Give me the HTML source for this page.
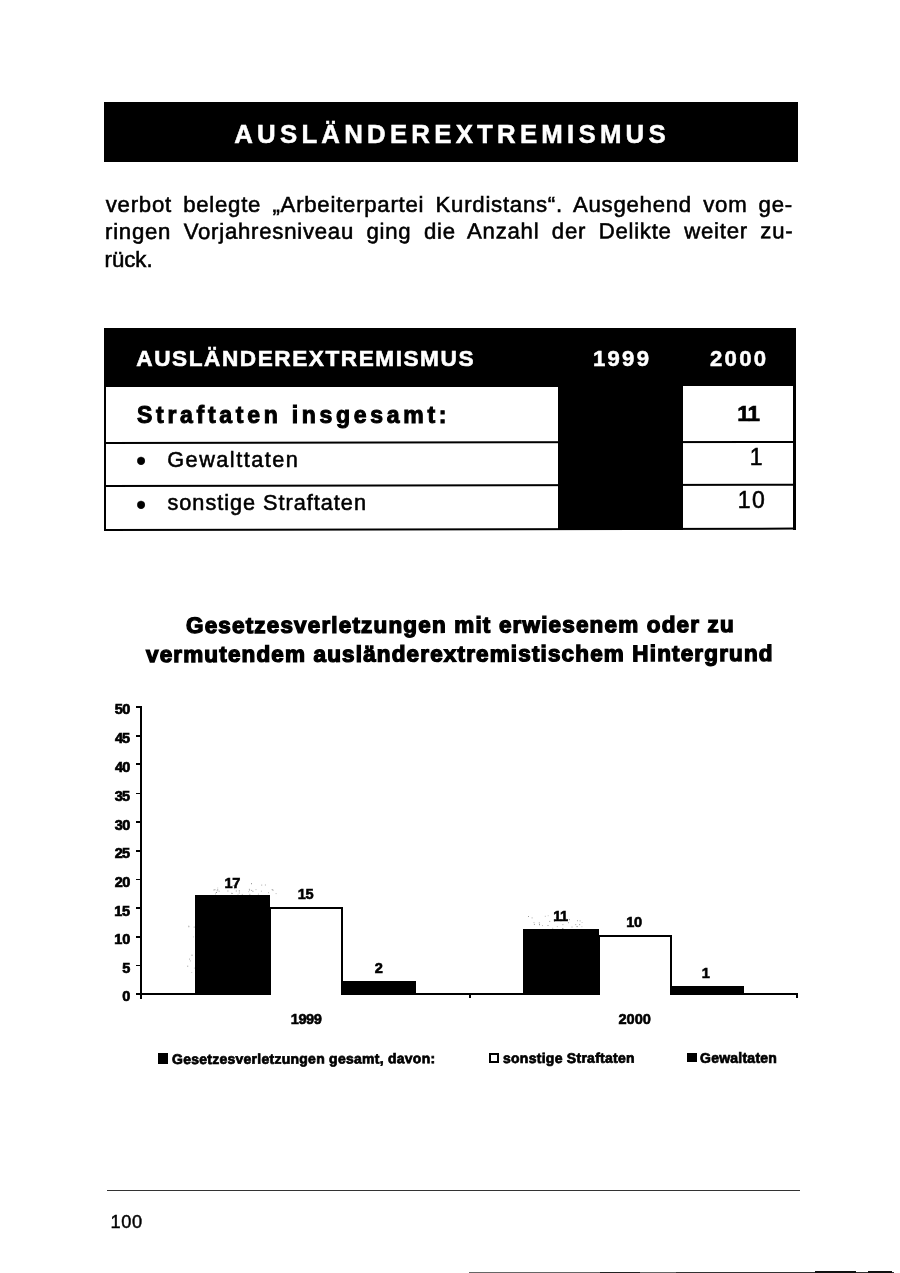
<!DOCTYPE html>
<html lang="de">
<head>
<meta charset="utf-8">
<title>Ausländerextremismus</title>
<style>
html,body{margin:0;padding:0;background:#fff;}
header,p,section,figure,figcaption,footer,h1{margin:0;padding:0;font-weight:normal;}
body{width:900px;height:1273px;position:relative;overflow:hidden;font-family:"Liberation Sans",sans-serif;color:#000;}
.b{position:absolute;background:#000;}
.w{position:absolute;background:#fff;border:2px solid #000;border-bottom:0;box-sizing:border-box;}
.t{position:absolute;white-space:nowrap;line-height:1;margin:0;}
</style>
</head>
<body>
<header>
<div class="b" style="left:104px;top:102.2px;width:694.2px;height:59.6px;"></div>
<h1 class="t" style="left:234.25px;top:122.00px;font-size:25.8px;font-weight:bold;color:#fff;letter-spacing:4.224px;-webkit-text-stroke:0.5px #fff;">AUSLÄNDEREXTREMISMUS</h1>
</header>
<p>
<span class="t" style="left:105.75px;top:194.01px;font-size:22.2px;letter-spacing:0.750px;word-spacing:4.333px;-webkit-text-stroke:0.55px #000;">verbot belegte „Arbeiterpartei Kurdistans“. Ausgehend vom ge-</span>
<span class="t" style="left:104.50px;top:221.00px;font-size:22.2px;letter-spacing:0.750px;word-spacing:5.562px;-webkit-text-stroke:0.55px #000;transform-origin:0 85%;transform:rotate(-0.06deg);">ringen Vorjahresniveau ging die Anzahl der Delikte weiter zu-</span>
<span class="t" style="left:104.50px;top:249.00px;font-size:22.2px;-webkit-text-stroke:0.55px #000;">rück.</span>
</p>
<section id="tabelle">
<div class="b" style="left:103.6px;top:327.8px;width:692px;height:58px;"></div>
<div class="b" style="left:103.6px;top:385px;width:454.4px;height:1.8px;"></div>
<div class="b" style="left:103.8px;top:386px;width:2.7px;height:145px;"></div>
<div class="b" style="left:793.4px;top:385px;width:2.5px;height:144.8px;"></div>
<div class="b" style="left:103.8px;top:529.05px;width:692.1px;height:2.3px;transform-origin:0 50%;transform:rotate(-0.116deg)"></div>
<div class="b" style="left:106px;top:441.75px;width:688.0px;height:1.7px;transform-origin:0 50%;transform:rotate(-0.092deg)"></div>
<div class="b" style="left:106px;top:485.35px;width:688.0px;height:1.7px;transform-origin:0 50%;transform:rotate(-0.108deg)"></div>
<div class="b" style="left:558.4px;top:385px;width:124.8px;height:144.6px;"></div>
<div class="t" style="left:136.25px;top:348.01px;font-size:22.6px;font-weight:bold;color:#fff;letter-spacing:1.561px;-webkit-text-stroke:0.6px #fff;">AUSLÄNDEREXTREMISMUS</div>
<div class="t" style="left:593.00px;top:348.01px;font-size:22.2px;font-weight:bold;color:#fff;letter-spacing:2.217px;-webkit-text-stroke:0.5px #fff;">1999</div>
<div class="t" style="left:710.00px;top:348.01px;font-size:22.2px;font-weight:bold;color:#fff;letter-spacing:2.267px;-webkit-text-stroke:0.5px #fff;">2000</div>
<div class="t" style="left:137.00px;top:404.01px;font-size:23px;font-weight:bold;letter-spacing:3.717px;-webkit-text-stroke:1px #000;">Straftaten insgesamt:</div>
<div class="t" style="left:737.25px;top:403.01px;font-size:22.5px;font-weight:bold;letter-spacing:-1.000px;-webkit-text-stroke:0.6px #000;">11</div>
<div class="t" style="left:167.25px;top:449.01px;font-size:21.7px;letter-spacing:1.485px;-webkit-text-stroke:0.55px #000;">Gewalttaten</div>
<div class="t" style="left:749.65px;top:446.00px;font-size:23px;-webkit-text-stroke:0.55px #000;">1</div>
<div class="t" style="left:167.50px;top:492.00px;font-size:21.7px;letter-spacing:0.978px;-webkit-text-stroke:0.55px #000;">sonstige Straftaten</div>
<div class="t" style="left:737.75px;top:489.01px;font-size:23px;letter-spacing:1.550px;-webkit-text-stroke:0.55px #000;">10</div>
<div class="t" style="left:136.05px;top:447.35px;font-size:29px;-webkit-text-stroke:0.2px #000;">•</div>
<div class="t" style="left:136.05px;top:491.35px;font-size:29px;-webkit-text-stroke:0.2px #000;">•</div>
</section>
<figure>
<figcaption>
<div class="t" style="left:185.50px;top:615.00px;font-size:22.5px;font-weight:bold;letter-spacing:1.162px;-webkit-text-stroke:1.3px #000;transform-origin:0 85%;transform:rotate(-0.1deg);">Gesetzesverletzungen mit erwiesenem oder zu</div>
<div class="t" style="left:146.25px;top:644.00px;font-size:22.5px;font-weight:bold;letter-spacing:1.147px;-webkit-text-stroke:1.3px #000;transform-origin:0 85%;transform:rotate(-0.1deg);">vermutendem ausländerextremistischem Hintergrund</div>
</figcaption>
<div class="b" style="left:139.85px;top:706.3px;width:2.35px;height:292.7px;"></div>
<div class="b" style="left:135.5px;top:992.95px;width:662.1px;height:2.1px;"></div>
<div class="b" style="left:135.5px;top:964.75px;width:5.6px;height:1.7px;"></div>
<div class="b" style="left:135.5px;top:936.15px;width:5.6px;height:1.7px;"></div>
<div class="b" style="left:135.5px;top:907.45px;width:5.6px;height:1.7px;"></div>
<div class="b" style="left:135.5px;top:878.75px;width:5.6px;height:1.7px;"></div>
<div class="b" style="left:135.5px;top:850.05px;width:5.6px;height:1.7px;"></div>
<div class="b" style="left:135.5px;top:821.45px;width:5.6px;height:1.7px;"></div>
<div class="b" style="left:135.5px;top:792.75px;width:5.6px;height:1.7px;"></div>
<div class="b" style="left:135.5px;top:763.45px;width:5.6px;height:1.7px;"></div>
<div class="b" style="left:135.5px;top:734.85px;width:5.6px;height:1.7px;"></div>
<div class="b" style="left:135.5px;top:706.15px;width:5.6px;height:1.7px;"></div>
<div class="b" style="left:469.1px;top:994px;width:1.8px;height:4.3px;"></div>
<div class="b" style="left:796.2px;top:994px;width:1.8px;height:4.3px;"></div>
<div class="b" style="left:195px;top:895.3px;width:75.3px;height:99.7px;"></div>
<div class="w" style="left:269px;top:906.8px;width:74.1px;height:88.2px"></div>
<div class="b" style="left:343px;top:981.4px;width:73.2px;height:13.6px;"></div>
<div class="b" style="left:523.3px;top:929.1px;width:75.4px;height:65.9px;"></div>
<div class="w" style="left:597.5px;top:935px;width:74.1px;height:60px"></div>
<div class="b" style="left:671.3px;top:986.4px;width:72.5px;height:8.6px;"></div>
<div class="b" style="left:157.7px;top:1053.4px;width:10.3px;height:10.6px;"></div>
<div class="w" style="left:489.2px;top:1052.8px;width:10.1px;height:10.2px;border:2px solid #000"></div>
<div class="b" style="left:686.7px;top:1052.6px;width:10.2px;height:9.6px;"></div>
<div style="position:absolute;left:212px;top:879px;width:1px;height:1px;box-shadow:20.7px 6.0px 0 0 #999,4.6px 11.3px 0 0 #bbb,37.3px 14.8px 0 0 #aaa,2.4px 10.2px 0 0 #999,15.4px 11.5px 0 0 #999,52.9px 5.5px 0 0 #aaa,40.4px 11.8px 0 0 #999,36.9px 9.8px 0 0 #aaa,3.0px 14.4px 0 0 #bbb,26.8px 11.4px 0 0 #888,19.7px 14.0px 0 0 #aaa,6.6px 11.7px 0 0 #aaa,23.8px 11.5px 0 0 #999,36.1px 12.2px 0 0 #ccc,43.5px 10.1px 0 0 #bbb,29.8px 14.9px 0 0 #bbb,19.2px 13.8px 0 0 #aaa,5.2px 8.5px 0 0 #ccc,56.0px 13.2px 0 0 #bbb,39.0px 4.2px 0 0 #888,26.8px 13.5px 0 0 #aaa,59.7px 10.1px 0 0 #999,48.9px 11.7px 0 0 #bbb,21.8px 9.2px 0 0 #ccc,37.1px 10.5px 0 0 #999,60.5px 10.7px 0 0 #999,3.9px 13.0px 0 0 #888,63.6px 14.1px 0 0 #bbb,45.9px 14.6px 0 0 #bbb,1.4px 10.5px 0 0 #aaa,39.1px 10.9px 0 0 #aaa,49.2px 5.6px 0 0 #aaa,25.5px 14.8px 0 0 #ccc,5.2px 10.4px 0 0 #888"></div>
<div style="position:absolute;left:186px;top:915px;width:1px;height:1px;box-shadow:2.2px 10.5px 0 0 #ccc,6.9px 21.4px 0 0 #ccc,7.9px 52.6px 0 0 #ccc,7.7px 11.6px 0 0 #aaa,1.2px 50.7px 0 0 #999,3.9px 45.4px 0 0 #bbb,2.3px 11.2px 0 0 #888,3.0px 43.6px 0 0 #aaa,5.5px 39.7px 0 0 #888,5.2px 57.0px 0 0 #ccc"></div>
<div style="position:absolute;left:528px;top:908px;width:1px;height:1px;box-shadow:48.6px 18.1px 0 0 #888,21.2px 12.9px 0 0 #999,26.0px 13.0px 0 0 #aaa,3.6px 9.4px 0 0 #aaa,5.9px 15.9px 0 0 #999,0.0px 8.0px 0 0 #999,51.2px 16.1px 0 0 #999,47.2px 16.1px 0 0 #aaa,34.3px 20.0px 0 0 #888,19.7px 7.2px 0 0 #ccc,53.6px 14.0px 0 0 #ccc,16.8px 7.8px 0 0 #bbb,40.0px 14.2px 0 0 #aaa,27.9px 9.3px 0 0 #888,19.5px 17.0px 0 0 #999,40.9px 11.2px 0 0 #999,37.6px 10.5px 0 0 #bbb,49.0px 12.2px 0 0 #aaa,28.8px 18.1px 0 0 #bbb,34.4px 16.1px 0 0 #aaa,43.5px 18.5px 0 0 #aaa,10.8px 14.4px 0 0 #999,53.4px 18.2px 0 0 #ccc,14.0px 17.1px 0 0 #bbb,24.2px 19.8px 0 0 #bbb,51.6px 12.4px 0 0 #aaa,5.5px 14.1px 0 0 #bbb,11.0px 16.2px 0 0 #888"></div>
<div class="t" style="left:122.20px;top:989.00px;font-size:14.5px;font-weight:bold;-webkit-text-stroke:0.7px #000;">0</div>
<div class="t" style="left:122.20px;top:961.00px;font-size:14.5px;font-weight:bold;-webkit-text-stroke:0.7px #000;">5</div>
<div class="t" style="left:114.25px;top:932.01px;font-size:14.5px;font-weight:bold;-webkit-text-stroke:0.7px #000;">10</div>
<div class="t" style="left:114.25px;top:904.01px;font-size:14.5px;font-weight:bold;letter-spacing:-0.250px;-webkit-text-stroke:0.7px #000;">15</div>
<div class="t" style="left:114.75px;top:875.00px;font-size:14.5px;font-weight:bold;letter-spacing:-0.500px;-webkit-text-stroke:0.7px #000;">20</div>
<div class="t" style="left:114.75px;top:846.00px;font-size:14.5px;font-weight:bold;letter-spacing:-0.750px;-webkit-text-stroke:0.7px #000;">25</div>
<div class="t" style="left:114.75px;top:818.01px;font-size:14.5px;font-weight:bold;letter-spacing:-0.500px;-webkit-text-stroke:0.7px #000;">30</div>
<div class="t" style="left:114.75px;top:789.00px;font-size:14.5px;font-weight:bold;letter-spacing:-0.750px;-webkit-text-stroke:0.7px #000;">35</div>
<div class="t" style="left:115.00px;top:760.01px;font-size:14.5px;font-weight:bold;letter-spacing:-0.750px;-webkit-text-stroke:0.7px #000;">40</div>
<div class="t" style="left:115.00px;top:731.00px;font-size:14.5px;font-weight:bold;letter-spacing:-1.000px;-webkit-text-stroke:0.7px #000;">45</div>
<div class="t" style="left:114.75px;top:702.01px;font-size:14.5px;font-weight:bold;letter-spacing:-0.500px;-webkit-text-stroke:0.7px #000;">50</div>
<div class="t" style="left:224.50px;top:876.00px;font-size:14.6px;font-weight:bold;letter-spacing:-0.300px;-webkit-text-stroke:0.6px #000;">17</div>
<div class="t" style="left:297.75px;top:887.01px;font-size:14.6px;font-weight:bold;letter-spacing:-0.300px;-webkit-text-stroke:0.6px #000;">15</div>
<div class="t" style="left:374.73px;top:961.01px;font-size:14.6px;font-weight:bold;-webkit-text-stroke:0.6px #000;">2</div>
<div class="t" style="left:553.25px;top:909.01px;font-size:14.6px;font-weight:bold;letter-spacing:-0.600px;-webkit-text-stroke:0.6px #000;">11</div>
<div class="t" style="left:626.25px;top:915.01px;font-size:14.6px;font-weight:bold;letter-spacing:-0.300px;-webkit-text-stroke:0.6px #000;">10</div>
<div class="t" style="left:701.82px;top:966.00px;font-size:14.6px;font-weight:bold;-webkit-text-stroke:0.6px #000;">1</div>
<div class="t" style="left:290.75px;top:1012.00px;font-size:14.6px;font-weight:bold;letter-spacing:-0.483px;-webkit-text-stroke:0.6px #000;">1999</div>
<div class="t" style="left:618.50px;top:1012.01px;font-size:14.6px;font-weight:bold;letter-spacing:-0.050px;-webkit-text-stroke:0.6px #000;">2000</div>
<div class="t" style="left:171.75px;top:1052.01px;font-size:14px;font-weight:bold;letter-spacing:0.257px;-webkit-text-stroke:0.7px #000;transform-origin:0 85%;transform:rotate(-0.17deg);">Gesetzesverletzungen gesamt, davon:</div>
<div class="t" style="left:502.75px;top:1051.01px;font-size:14px;font-weight:bold;letter-spacing:0.267px;-webkit-text-stroke:0.7px #000;transform-origin:0 85%;transform:rotate(-0.1deg);">sonstige Straftaten</div>
<div class="t" style="left:700.00px;top:1051.01px;font-size:14px;font-weight:bold;letter-spacing:0.244px;-webkit-text-stroke:0.7px #000;">Gewaltaten</div>
</figure>
<footer>
<div class="b" style="left:107.3px;top:1189.5px;width:692.7px;height:1.1px;background:#333;"></div>
<div class="b" style="left:469px;top:1271.8px;width:425px;height:1.2px;background:#666;"></div>
<div class="b" style="left:600px;top:1271.6px;width:40px;height:1.4px;background:#222;"></div>
<div class="b" style="left:676px;top:1271.6px;width:218px;height:1.4px;background:#333;"></div>
<div class="b" style="left:814.7px;top:1271px;width:41.3px;height:2px;background:#111;"></div>
<div class="b" style="left:868px;top:1271px;width:24px;height:2px;background:#111;"></div>
<div class="t" style="left:110.50px;top:1213.01px;font-size:18.2px;letter-spacing:0.625px;-webkit-text-stroke:0.45px #000;">100</div>
</footer>
</body>
</html>
